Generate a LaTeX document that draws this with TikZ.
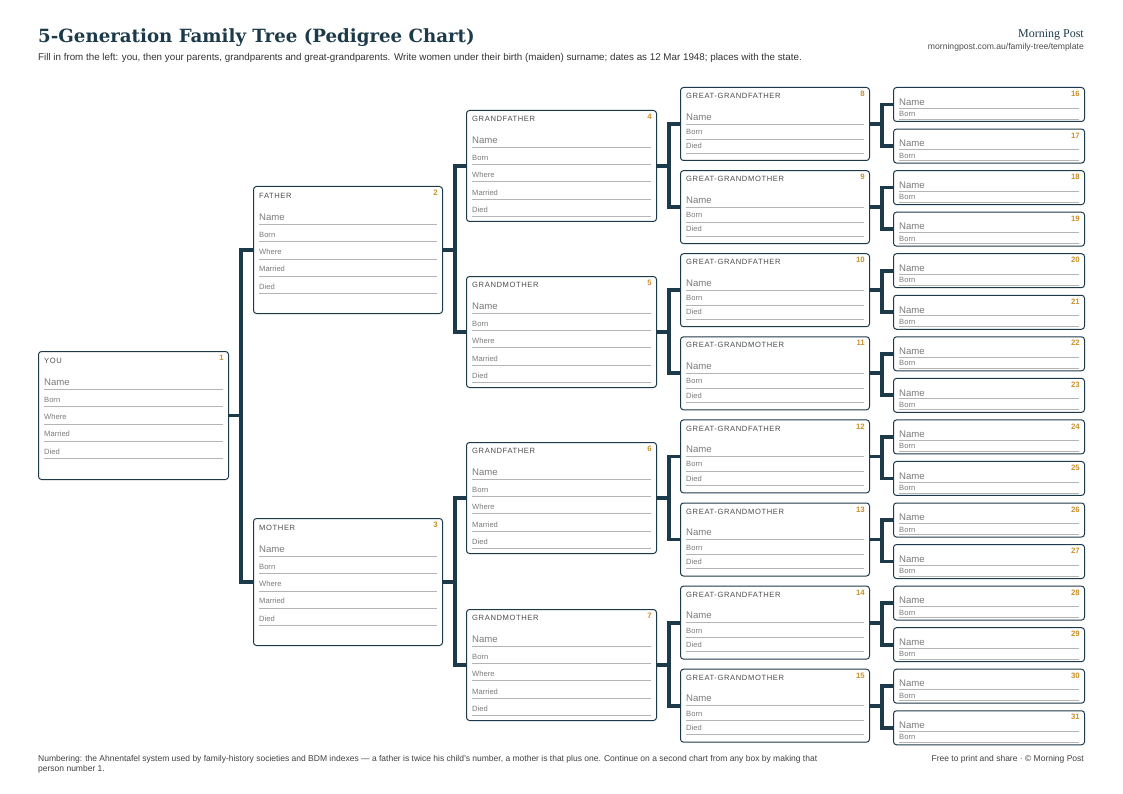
\documentclass[tikz,border=0pt]{standalone}
\usepackage{fontspec}
\setmainfont{Liberation Sans}
\newfontfamily\titlefont{DejaVu Serif}
\newfontfamily\brandfont{Liberation Serif}
\newfontfamily\headfont[LetterSpace=8]{Liberation Sans}
\usetikzlibrary{calc}

\definecolor{navy}{HTML}{1D3A4A}
\definecolor{ochre}{HTML}{C8902A}
\definecolor{inkgrey}{HTML}{7A7A7A}
\definecolor{rulegrey}{HTML}{B4B4B4}

\tikzset{
  box/.style={draw=navy, line width=1pt, rounded corners=3pt, anchor=north west, inner sep=0pt},
  head/.style={anchor=west, inner sep=0pt, font=\headfont\fontsize{7.6}{8}\selectfont, text=black!70},
  num/.style={anchor=north east, inner sep=0pt, font=\bfseries\fontsize{7.8}{8}\selectfont, text=ochre},
  field/.style={anchor=west, inner sep=0pt, font=\fontsize{7.6}{8}\selectfont, text=inkgrey},
  namefield/.style={field, font=\fontsize{9.6}{10}\selectfont},
  rule/.style={draw=rulegrey, line width=0.8pt},
  link/.style={draw=navy, line width=3.8pt, line cap=butt, line join=miter}
}

% one labelled line in box #1: label #2, text at #3, rule at #4
\newcommand\fieldline[5][field]{%
  \node[#1] at ($(#2.north west)+(6,#4)$) {#3};
  \draw[rule] ($(#2.north west)+(6,#5)$) -- ($(#2.north east)+(-6,#5)$);}

\begin{document}
\begin{tikzpicture}[x=1pt,y=-1pt]
  \useasboundingbox (0,0) rectangle (1123,794);

  % Heading
  \node[anchor=west, inner sep=0pt, text=navy, font=\titlefont\bfseries\fontsize{18.2}{21}\selectfont] (title) at (38,38) {5-Generation Family Tree (Pedigree Chart)};
  \node[anchor=west, inner sep=0pt, font=\fontsize{9.8}{11}\selectfont, text=black!80] (intro) at (38,58) {Fill in from the left: you, then your parents, grandparents and great-grandparents. Write women under their birth (maiden) surname; dates as 12 Mar 1948; places with the state.};
  \node[anchor=east, inner sep=0pt, text=navy, font=\brandfont\fontsize{12}{14}\selectfont] (brand) at (1084,35) {Morning Post};
  \node[anchor=east, inner sep=0pt, font=\fontsize{8.6}{10}\selectfont, text=black!70] (url) at (1084,47) {morningpost.com.au/family-tree/template};

  % Generation 1 and 2
  \node[box, minimum width=190pt, minimum height=128pt] (p1) at (38,351) {};
  \node[box, minimum width=189pt, minimum height=127pt] (p2) at (253,186) {};
  \node[box, minimum width=189pt, minimum height=127pt] (p3) at (253,518) {};
  \foreach \n/\t in {1/YOU,2/FATHER,3/MOTHER} {
    \node[head] at ($(p\n.north west)+(6,10)$) {\t};
    \node[num] at ($(p\n.north east)+(-5,4)$) {\n};
    \fieldline[namefield]{p\n}{Name}{31}{38}
    \fieldline{p\n}{Born}{49}{55}
    \fieldline{p\n}{Where}{66}{73}
    \fieldline{p\n}{Married}{83}{90}
    \fieldline{p\n}{Died}{101}{107}
  }

  % Generation 3
  \foreach \n/\t/\y in {4/GRANDFATHER/110,5/GRANDMOTHER/276,6/GRANDFATHER/442,7/GRANDMOTHER/609} {
    \node[box, minimum width=190pt, minimum height=111pt] (p\n) at (466,\y) {};
    \node[head] at ($(p\n.north west)+(6,9)$) {\t};
    \node[num] at ($(p\n.north east)+(-5,4)$) {\n};
    \fieldline[namefield]{p\n}{Name}{30}{37}
    \fieldline{p\n}{Born}{48}{54}
    \fieldline{p\n}{Where}{65}{71}
    \fieldline{p\n}{Married}{83}{89}
    \fieldline{p\n}{Died}{100}{106}
  }

  % Generation 4
  \foreach \n in {8,...,15} {
    \pgfmathtruncatemacro\even{mod(\n,2)}
    \ifnum\even=0 \def\t{GREAT-GRANDFATHER}\else\def\t{GREAT-GRANDMOTHER}\fi
    \node[box, minimum width=189pt, minimum height=73pt] (p\n) at (680,{87+83.1*(\n-8)}) {};
    \node[head] at ($(p\n.north west)+(6,9)$) {\t};
    \node[num] at ($(p\n.north east)+(-5,4)$) {\n};
    \fieldline[namefield]{p\n}{Name}{30}{37}
    \fieldline{p\n}{Born}{45}{52}
    \fieldline{p\n}{Died}{59}{66}
  }

  % Generation 5
  \foreach \n in {16,...,31} {
    \node[box, minimum width=191pt, minimum height=34pt] (p\n) at (893,{87+41.55*(\n-16)}) {};
    \node[num] at ($(p\n.north east)+(-5,4)$) {\n};
    \fieldline[namefield]{p\n}{Name}{15}{21}
    \fieldline{p\n}{Born}{27}{32}
  }

  % Links: child to father (2n) and mother (2n+1)
  \foreach \c in {1,...,15} {
    \pgfmathtruncatemacro\f{2*\c}
    \pgfmathtruncatemacro\m{2*\c+1}
    \draw[link] (p\c.east) -- ++(12,0) coordinate (j\c);
    \draw[link] (p\f.west) -| (j\c) |- (p\m.west);
  }

  % Footer
  \node[anchor=north west, inner sep=0pt, align=left, font=\fontsize{8.5}{10.5}\selectfont, text=black!75] (note) at (38,755) {Numbering: the Ahnentafel system used by family-history societies and BDM indexes — a father is twice his child's number, a mother is that plus one. Continue on a second chart from any box by making that\\person number 1.};
  \node[anchor=north east, inner sep=0pt, font=\fontsize{8.5}{10.5}\selectfont, text=black!75] (credit) at (1084,755) {Free to print and share · © Morning Post};
\end{tikzpicture}
\end{document}
